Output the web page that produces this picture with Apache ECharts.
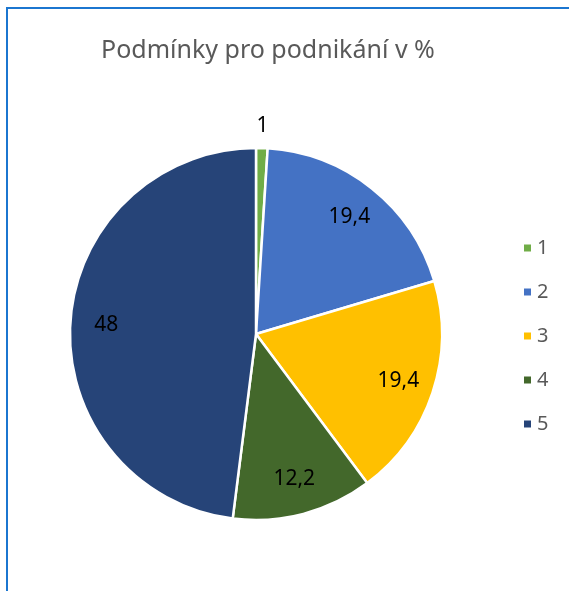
<!DOCTYPE html>
<html>
<head>
<meta charset="utf-8">
<script src="https://cdn.jsdelivr.net/npm/echarts@6/dist/echarts.min.js"></script>
<style>
  html, body { margin: 0; padding: 0; background: #fff; }
  #wrap { position: relative; width: 569px; height: 591px; overflow: hidden; }
  #frame { position: absolute; left: 6px; top: 7px; width: 700px; height: 700px;
           border-left: 2px solid #1b76d0; border-top: 2px solid #1b76d0; }
  #chart { position: absolute; left: 0; top: 0; width: 569px; height: 591px; }
</style>
</head>
<body>
<div id="wrap">
  <div id="frame"></div>
  <div id="chart"></div>
</div>
<script>
// hodnoty z grafu
var categories = ['1', '2', '3', '4', '5'];
var values = [1, 19.4, 19.4, 12.2, 48];
var colors = ['#70ad47', '#4472c4', '#ffc000', '#43682b', '#264478'];

var center = [256, 334];
var radius = 186;

function fmt(v) {
    return String(v).replace('.', ',');
}

var mainData = [], ringData = [], topData = [];
for (var i = 0; i < categories.length; i++) {
    mainData.push({ name: categories[i], value: values[i], itemStyle: { color: colors[i] } });
    // popisky uvnitr vysece (vsechny krome prvni)
    ringData.push({ name: categories[i], value: values[i], label: { show: i !== 0 } });
    // popisek nad nejmensi vyseci
    topData.push({ name: categories[i], value: values[i], label: { show: i === 0 } });
}

var myChart = echarts.init(document.getElementById('chart'));
var option = {
    animation: false,
    title: {
        text: 'Podmínky pro podnikání v %',
        left: 96,
        top: 33,
        textStyle: { fontFamily: 'Noto Sans', fontSize: 25, fontWeight: 'normal', color: '#595959' }
    },
    legend: {
        orient: 'vertical',
        left: 517,
        top: 233,
        icon: 'rect',
        itemWidth: 9,
        itemHeight: 9,
        itemGap: 24,
        data: categories,
        textStyle: { fontFamily: 'Noto Sans', fontSize: 20, lineHeight: 18, color: '#595959' }
    },
    series: [
        {
            name: 'main',
            type: 'pie',
            center: center,
            radius: [0, radius],
            startAngle: 90,
            silent: true,
            data: mainData,
            itemStyle: { borderColor: '#fff', borderWidth: 2.5 },
            label: { show: false },
            labelLine: { show: false }
        },
        {
            name: 'labels',
            type: 'pie',
            center: center,
            radius: [115, 179],
            startAngle: 90,
            silent: true,
            legendHoverLink: false,
            data: ringData,
            itemStyle: { color: 'rgba(0,0,0,0)', borderWidth: 0 },
            label: {
                position: 'inside',
                fontFamily: 'Noto Sans',
                fontSize: 21,
                color: '#000',
                formatter: function (p) { return fmt(p.value); }
            },
            labelLine: { show: false }
        },
        {
            name: 'top',
            type: 'pie',
            center: center,
            radius: [196, 214],
            startAngle: 90,
            silent: true,
            legendHoverLink: false,
            data: topData,
            itemStyle: { color: 'rgba(0,0,0,0)', borderWidth: 0 },
            label: {
                position: 'inside',
                fontFamily: 'Noto Sans',
                fontSize: 21,
                color: '#000',
                formatter: function (p) { return fmt(p.value); }
            },
            labelLine: { show: false }
        }
    ]
};
myChart.setOption(option);
</script>
</body>
</html>
